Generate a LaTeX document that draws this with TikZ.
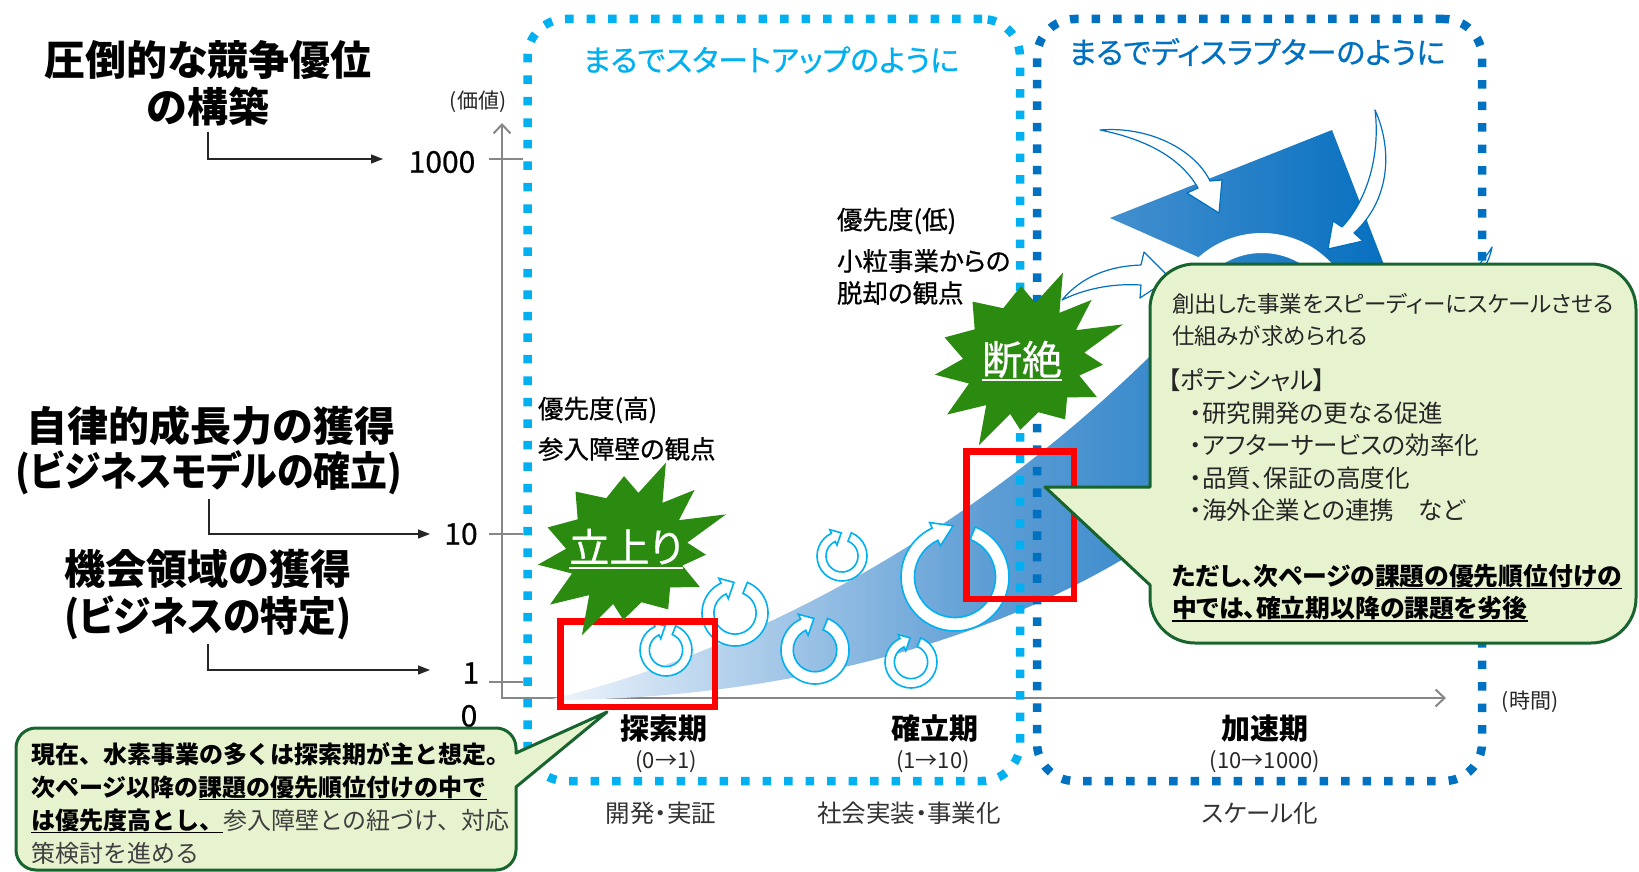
\documentclass[tikz,border=0pt]{standalone}
\usepackage{fontspec}
\setmainfont{Noto Sans CJK JP}[RawFeature=+palt]
\newfontfamily\medfont{Noto Sans CJK JP}[RawFeature=+palt, FakeBold=0.7]
\newfontfamily\fwfont{Noto Sans CJK JP}
\usetikzlibrary{arrows.meta}

\definecolor{lblue}{RGB}{0,176,240}
\definecolor{dblue}{RGB}{0,112,192}
\definecolor{burstgreen}{RGB}{43,138,16}
\definecolor{cofill}{RGB}{231,243,207}
\definecolor{coline}{RGB}{24,100,46}
\definecolor{axisgray}{RGB}{135,135,135}
\definecolor{txt}{RGB}{38,38,38}
\definecolor{bandA}{RGB}{240,245,252}
\definecolor{bandB}{RGB}{95,158,213}
\definecolor{bandC}{RGB}{0,108,190}

\newcommand\fs[2]{\fontsize{#1}{#2}\selectfont}
% text with a rule underneath, thickness scales with the font
\newcommand\undl[2][0.065em]{\setbox0=\hbox{#2}\leavevmode\rlap{\rule[-0.17em]{\wd0}{#1}}\box0}

\begin{document}
\begin{tikzpicture}[x=1pt,y=1pt,
  every node/.style={inner sep=0pt, outer sep=0pt},
  biglab/.style={font=\fs{41}{48}\bfseries, text=black},
  num/.style={font=\fs{30}{36}\medfont, text=black},
  unit/.style={font=\fs{21}{26}, text=black!85},
  phase/.style={font=\fs{29}{34}\bfseries, text=black},
  span/.style={font=\fs{22}{26}, text=black!85},
  stage/.style={font=\fs{24.5}{28}, text=black!80},
  prio/.style={font=\fs{25.5}{32}\medfont, text=black, anchor=west},
  zonetitle/.style={font=\fs{30}{34}\medfont},
  zone/.style={draw, line width=8.5pt, dash pattern=on 8.5pt off 13pt, rounded corners=38pt, minimum height=762pt},
  redbox/.style={draw=red, line width=6.5pt},
  conn/.style={draw=black!85, line width=1.3pt, -{Triangle[length=12pt,width=9pt]}},
  axis/.style={draw=axisgray, line width=2pt},
  callout/.style={fill=cofill, draw=coline, line width=3pt, line join=round},
  cotext/.style={align=left, anchor=north west, text=txt},
  swirl/.style={fill=white, draw=dblue, line width=1.2pt, line join=round},
  cycring/.style={fill=white, draw=lblue, line width=1.6pt, line join=miter},
  bursttext/.style={text=white, font=\fs{40}{46}\medfont},
  pics/cyc/.style n args={2}{code={
    \pgfmathsetmacro\cRo{#1}
    \pgfmathsetmacro\cRi{#1*#2}
    \pgfmathsetmacro\cW{\cRo-\cRi}
    \pgfmathsetmacro\cRa{\cRo+0.45*\cW}
    \pgfmathsetmacro\cRb{\cRi-0.45*\cW}
    \pgfmathsetmacro\cRt{0.5*(\cRo+\cRi)+0.3*\cW}
    \path[cycring] (68:\cRo pt) arc[start angle=68, end angle=-245, radius=\cRo pt]
      -- (-245:\cRa pt) -- (-268:\cRt pt) -- (-245:\cRb pt) -- (-245:\cRi pt)
      arc[start angle=-245, end angle=68, radius=\cRi pt] -- cycle;
  }},
  pics/burst/.style={code={
    \fill[burstgreen] (67:97pt) -- (55:60pt) -- (43:91pt) -- (32:60pt) -- (21:105pt)
      -- (9:60pt) -- (-2:78pt) -- (-14:56pt) -- (-26:80pt) -- (-40:55pt) -- (-55:70pt)
      -- (-75:52pt) -- (-94:68pt) -- (-106:54pt) -- (-119:95pt) -- (-132:58pt)
      -- (-146:94pt) -- (-159:60pt) -- (-172:91pt) -- (177:62pt) -- (163:84pt)
      -- (147:60pt) -- (131:80pt) -- (112:58pt) -- (93:76pt) -- (80:60pt) -- cycle;
  }},
]

\useasboundingbox (0,0) rectangle (1639,-872);
\fill[white] (0,0) rectangle (1639,-872);

% ---------- axes ----------
\coordinate (O) at (502,-698);
\coordinate (ytop) at (502,-123);
\coordinate (xend) at (1446,-698);
\draw[axis, {Straight Barb[length=9pt,width=17pt]}-{Straight Barb[length=9pt,width=17pt]}] (ytop) -- (O) -- (xend);
\draw[axis] (489,-159) -- (523,-159);
\draw[axis] (489,-534) -- (523,-534);
\draw[axis] (489,-682) -- (523,-682);

\node[unit] (yunit) at (478,-102) {(価値)};
\node[unit] (xunit) at (1530,-702) {(時間)};
\node[num] (n1000) at (442,-162) {1000};
\node[num] (n10) at (461,-534) {10};
\node[num] (n1) at (471,-673) {1};
\node[num] (n0) at (469,-716) {0};

% ---------- growth band ending in a wide arrowhead ----------
\shade[left color=bandA, right color=bandC, middle color=bandB]
  (548,-700) .. controls (800,-640) and (1050,-480) .. (1230,-271)
  -- (1110,-218) -- (1332,-130) -- (1418,-353) -- (1360,-328)
  .. controls (1200,-600) and (850,-700) .. (548,-700) -- cycle;

% white ring inside the arrowhead
\fill[white, even odd rule] (1262,-328) circle[radius=95pt] (1262,-328) circle[radius=75pt];

% curved white arrows feeding the ring
\path[swirl] (1100,-130) .. controls (1150,-126) and (1195,-150) .. (1210,-181)
  -- (1222,-180) -- (1219,-213) -- (1187,-193) -- (1198,-188)
  .. controls (1182,-160) and (1150,-140) .. (1100,-130) -- cycle;
\path[swirl] (1375,-110) .. controls (1393,-150) and (1390,-200) .. (1354,-233)
  -- (1363,-241) -- (1328,-249) -- (1333,-221) -- (1342,-227)
  .. controls (1370,-197) and (1380,-150) .. (1375,-110) -- cycle;
\path[swirl] (1062,-300) .. controls (1082,-276) and (1110,-266) .. (1141,-265)
  -- (1144,-252) -- (1170,-278) -- (1140,-298) -- (1141,-285)
  .. controls (1110,-283) and (1082,-290) .. (1062,-300) -- cycle;
\path[swirl] (1492,-247) .. controls (1488,-270) and (1470,-290) .. (1440,-310)
  -- (1430,-300) .. controls (1462,-282) and (1482,-265) .. (1492,-247) -- cycle;

% small cycle arrows along the band
\pic at (666,-650) {cyc={26}{0.64}};
\pic at (735,-613) {cyc={33}{0.64}};
\pic at (842,-556) {cyc={25}{0.64}};
\pic at (815,-650) {cyc={34}{0.64}};
\pic at (911,-662) {cyc={26}{0.64}};
\pic at (955,-577) {cyc={54}{0.75}};

% ---------- dotted zones ----------
\node[zone, draw=lblue, minimum width=492.5pt] (zone1) at (773.75,-400) {};
\node[zone, draw=dblue, minimum width=445pt] (zone2) at (1259.5,-400) {};
\node[zonetitle, text=lblue] (zt1) at (771,-60) {まるでスタートアップのように};
\node[zonetitle, text=dblue] (zt2) at (1257,-52) {まるでディスラプターのように};

% ---------- highlight boxes ----------
\node[redbox, minimum width=154.5pt, minimum height=85.5pt] (rb1) at (637.5,-664) {};
\node[redbox, minimum width=107.5pt, minimum height=147.5pt] (rb2) at (1020,-525) {};

% ---------- bursts ----------
\pic at (628,-552) {burst};
\node[bursttext] (tb1) at (626,-549) {\undl{立上り}};
\pic at (1025,-362) {burst};
\node[bursttext] (tb2) at (1022,-361) {\undl{断絶}};

% ---------- priority notes ----------
\node[prio] (ph) at (538,-410) {優先度(高)};
\node[prio] (phv) at (538,-449) {参入障壁の観点};
\node[prio] (pl) at (837,-221) {優先度(低)};
\node[prio] (plv1) at (837,-261) {小粒事業からの};
\node[prio] (plv2) at (837,-293) {脱却の観点};

% ---------- value levels on the left ----------
\node[biglab] (lab1a) at (208,-60) {圧倒的な競争優位};
\node[biglab] (lab1b) at (208,-107) {の構築};
\node[biglab] (lab2a) at (211,-426) {自律的成長力の獲得};
\node[biglab] (lab2b) at (209,-473) {\scalebox{0.9}[1]{(ビジネスモデルの確立)}};
\node[biglab] (lab3a) at (208,-569) {機会領域の獲得};
\node[biglab] (lab3b) at (208,-618) {\scalebox{0.92}[1]{(ビジネスの特定)}};
\coordinate (e1000) at (383,-159);
\coordinate (e10) at (430,-534);
\coordinate (e1) at (430,-670);
\draw[conn] ([yshift=-5pt]lab1b.south) |- (e1000);
\draw[conn] ([yshift=-4pt]lab2b.south) |- (e10);
\draw[conn] ([yshift=-4pt]lab3b.south) |- (e1);

% ---------- phases ----------
\node[phase] (p1) at (664,-729) {探索期};
\node[span] (s1) at (666,-762) {(0→1)};
\node[phase] (p2) at (935,-729) {確立期};
\node[span] (s2) at (933,-762) {(1→10)};
\node[phase] (p3) at (1265,-729) {加速期};
\node[span] (s3) at (1265,-762) {(10→1000)};
\node[stage] (g1) at (661,-813) {開発・実証};
\node[stage] (g2) at (909,-813) {社会実装・事業化};
\node[stage] (g3) at (1260,-813) {スケール化};

% ---------- callouts ----------
\coordinate (tip1) at (607,-712);
\filldraw[callout] (tip1) -- (516,-753) -- (516,-748) arc[start angle=0,end angle=90,radius=20pt]
  -- (36,-728) arc[start angle=90,end angle=180,radius=20pt]
  -- (16,-850) arc[start angle=180,end angle=270,radius=20pt]
  -- (496,-870) arc[start angle=270,end angle=360,radius=20pt]
  -- (516,-787) -- cycle;
\node[cotext, font=\fs{24}{33}\fwfont, text=black] (c1) at (31,-742)
  {\textbf{現在、水素事業の多くは探索期が主と想定。}\\
   \textbf{次ページ以降の\undl{課題の優先順位付けの中で}}\\
   \textbf{\undl{は優先度高とし、}}{\color{black!75}参入障壁との紐づけ、対応}\\
   {\color{black!75}策検討を進める}};

\coordinate (tip2) at (1045,-487);
\filldraw[callout] (tip2) -- (1150,-487) -- (1150,-309) arc[start angle=180,end angle=90,radius=45pt]
  -- (1591,-264) arc[start angle=90,end angle=0,radius=45pt]
  -- (1636,-598) arc[start angle=0,end angle=-90,radius=45pt]
  -- (1195,-643) arc[start angle=270,end angle=180,radius=45pt]
  -- (1150,-585) -- cycle;
\node[cotext, font=\fs{22.5}{32.5}] (c2a) at (1172,-293)
  {創出した事業をスピーディーにスケールさせる\\仕組みが求められる};
\node[cotext, font=\fs{24.5}{32.5}] (c2b) at (1168,-369)
  {【ポテンシャル】\\
   \hspace*{0.9em}・研究開発の更なる促進\\
   \hspace*{0.9em}・アフターサービスの効率化\\
   \hspace*{0.9em}・品質、保証の高度化\\
   \hspace*{0.9em}・海外企業との連携　など};
\node[cotext, font=\fs{24.8}{32.5}\bfseries, text=black] (c2c) at (1172,-564)
  {ただし、次ページの\undl{課題の優先順位付けの}\\
   \undl{中では、確立期以降の課題を劣後}};

\end{tikzpicture}
\end{document}
